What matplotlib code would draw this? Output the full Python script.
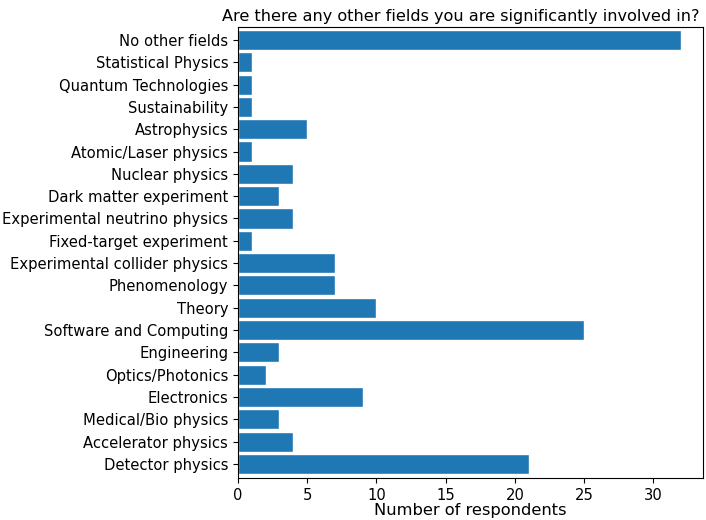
import matplotlib
matplotlib.use("Agg")
import matplotlib.pyplot as plt

fields = [
    "Detector physics", "Accelerator physics", "Medical/Bio physics",
    "Electronics", "Optics/Photonics", "Engineering",
    "Software and Computing", "Theory", "Phenomenology",
    "Experimental collider physics", "Fixed-target experiment",
    "Experimental neutrino physics", "Dark matter experiment",
    "Nuclear physics", "Atomic/Laser physics", "Astrophysics",
    "Sustainability", "Quantum Technologies", "Statistical Physics",
    "No other fields",
]
counts = [21, 4, 3, 9, 2, 3, 25, 10, 7, 7, 1, 4, 3, 4, 1, 5, 1, 1, 1, 32]

fig = plt.figure(figsize=(7.06, 5.2), dpi=100)
ax = fig.add_axes([0.337, 0.08, 0.659, 0.868])
ax.barh(fields, counts, height=0.9, color="#1f77b4", edgecolor="white")
ax.set_ylim(-0.65, len(fields) - 0.42)
ax.set_title("Are there any other fields you are significantly involved in?",
             fontsize=11.6, pad=4, x=0.48)
ax.set_xlabel("Number of respondents", fontsize=11.7, labelpad=0)
ax.tick_params(labelsize=10.6)

fig.savefig("out.png", dpi=100)
